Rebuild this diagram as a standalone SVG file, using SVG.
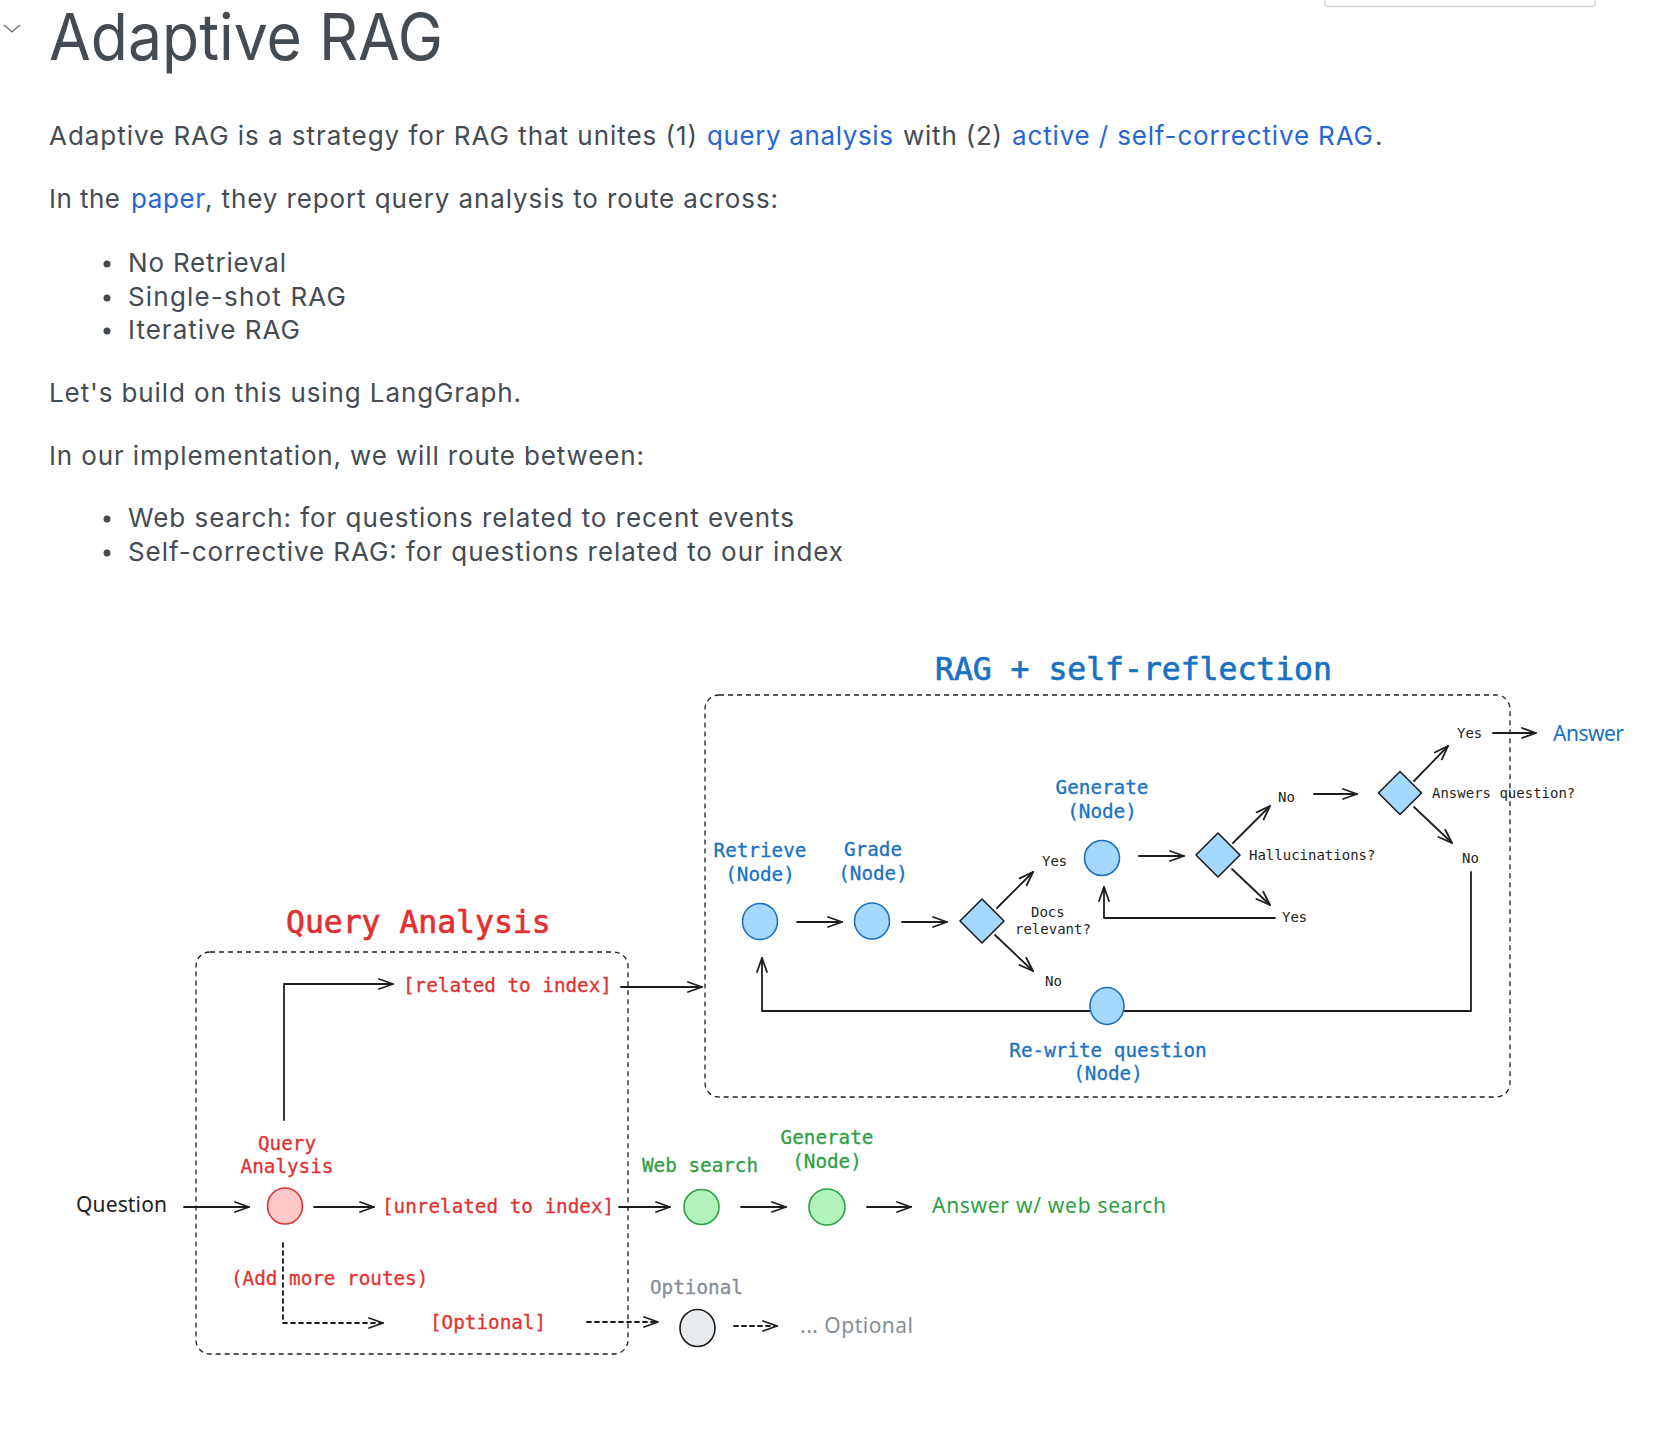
<svg xmlns="http://www.w3.org/2000/svg" width="1660" height="1454" viewBox="0 0 1660 1454">
<style>
.body{font-family:Inter,"Liberation Sans",sans-serif;font-size:26px;fill:#444b52}
.link{fill:#2866d4}
.mono{font-family:"DejaVu Sans Mono","Liberation Mono",monospace}
.ttl{font-size:31.4px;stroke-width:0.7}
.lbl{font-size:19.3px;stroke-width:0.3}
.sm{font-size:14px;fill:#1e1e1e}
.blue{fill:#1971c2;stroke:#1971c2}
.red{fill:#e03131;stroke:#e03131}
.green{fill:#2f9e44;stroke:#2f9e44}
.gray{fill:#868e96;stroke:#868e96}
.hand{font-family:"Noto Sans","Liberation Sans",sans-serif;font-size:21px;stroke:none}
.conn{fill:none;stroke:#1e1e1e;stroke-width:1.8;stroke-linecap:round;stroke-linejoin:round}
.dash{stroke-dasharray:4 4}
.box{fill:none;stroke:#1e1e1e;stroke-width:1.3;stroke-dasharray:5 4}
.nb{fill:#a5d8ff;stroke:#1971c2;stroke-width:1.6}
.db{fill:#a5d8ff;stroke:#1e1e1e;stroke-width:1.6;stroke-linejoin:round}
.nr{fill:#ffc9c9;stroke:#e03131;stroke-width:1.6}
.ng{fill:#b2f2bb;stroke:#2f9e44;stroke-width:1.6}
.ny{fill:#e9ecef;stroke:#1e1e1e;stroke-width:1.6}
</style>
<defs>
<marker id="ah" viewBox="0 0 16 12" refX="15" refY="6" markerWidth="16" markerHeight="12" orient="auto" markerUnits="userSpaceOnUse">
<path d="M1,1 L15,6 L1,11" fill="none" stroke="#1e1e1e" stroke-width="1.8" stroke-linecap="round" stroke-linejoin="round"/>
</marker>
</defs>
<rect width="1660" height="1454" fill="#ffffff"/>

<g id="page-text">
<rect x="1325" y="-10" width="270" height="16.5" rx="3" fill="none" stroke="#d4d4d4" stroke-width="1.5"/>
<path d="M4,25 L12,32 L20,25" fill="none" stroke="#666c73" stroke-width="1.3"/>
<text x="49" y="60" font-family="Inter,'Liberation Sans',sans-serif" font-size="64.5" fill="#454b52" textLength="394" lengthAdjust="spacingAndGlyphs">Adaptive RAG</text>
<text class="body" x="49" y="145" textLength="648">Adaptive RAG is a strategy for RAG that unites (1)</text>
<text class="body link" x="707" y="145" textLength="186">query analysis</text>
<text class="body" x="903" y="145" textLength="99">with (2)</text>
<text class="body link" x="1012" y="145" textLength="361">active / self-corrective RAG</text>
<text class="body" x="1375" y="145">.</text>
<text class="body" x="49" y="208" textLength="71">In the</text>
<text class="body link" x="131" y="208" textLength="74">paper</text>
<text class="body" x="205" y="208" textLength="573">, they report query analysis to route across:</text>
<circle cx="107" cy="264" r="3.5" fill="#444b52"/>
<circle cx="107" cy="298" r="3.5" fill="#444b52"/>
<circle cx="107" cy="331" r="3.5" fill="#444b52"/>
<text class="body" x="128" y="272" textLength="158">No Retrieval</text>
<text class="body" x="128" y="306" textLength="218">Single-shot RAG</text>
<text class="body" x="128" y="339" textLength="172">Iterative RAG</text>
<text class="body" x="49" y="402" textLength="472">Let's build on this using LangGraph.</text>
<text class="body" x="49" y="465" textLength="595">In our implementation, we will route between:</text>
<circle cx="107" cy="519" r="3.5" fill="#444b52"/>
<circle cx="107" cy="553" r="3.5" fill="#444b52"/>
<text class="body" x="128" y="527" textLength="666">Web search: for questions related to recent events</text>
<text class="body" x="128" y="561" textLength="715">Self-corrective RAG: for questions related to our index</text>
</g>

<g id="rag-section">
<rect x="705" y="695" width="805" height="402" rx="14" class="box"/>
<text class="mono ttl blue" x="935" y="680">RAG + self-reflection</text>
</g>
<g id="qa-section">
<rect x="196" y="952" width="432" height="402" rx="14" class="box"/>
<text class="mono ttl red" x="286" y="933">Query Analysis</text>
</g>

<g id="connectors">
<path class="conn" d="M797,922 L842,922" marker-end="url(#ah)"/>
<path class="conn" d="M902,922 L947,922" marker-end="url(#ah)"/>
<path class="conn" d="M997,908 L1033,872" marker-end="url(#ah)"/>
<path class="conn" d="M995,935 L1033,971" marker-end="url(#ah)"/>
<path class="conn" d="M1139,856 L1184,856" marker-end="url(#ah)"/>
<path class="conn" d="M1233,843 L1270,806" marker-end="url(#ah)"/>
<path class="conn" d="M1232,869 L1270,905" marker-end="url(#ah)"/>
<path class="conn" d="M1275,918 L1104,918 L1104,887" marker-end="url(#ah)"/>
<path class="conn" d="M1314,794 L1357,794" marker-end="url(#ah)"/>
<path class="conn" d="M1414,781 L1448,746" marker-end="url(#ah)"/>
<path class="conn" d="M1414,807 L1452,843" marker-end="url(#ah)"/>
<path class="conn" d="M1493,733 L1536,733" marker-end="url(#ah)"/>
<path class="conn" d="M1471,872 L1471,1011 L762,1011 L762,958" marker-end="url(#ah)"/>
<path class="conn" d="M284,1120 L284,984 L393,984" marker-end="url(#ah)"/>
<path class="conn" d="M621,987 L702,987" marker-end="url(#ah)"/>
<path class="conn" d="M184,1207 L249,1207" marker-end="url(#ah)"/>
<path class="conn" d="M314,1207 L374,1207" marker-end="url(#ah)"/>
<path class="conn" d="M619,1207 L670,1207" marker-end="url(#ah)"/>
<path class="conn" d="M741,1207 L786,1207" marker-end="url(#ah)"/>
<path class="conn" d="M867,1207 L911,1207" marker-end="url(#ah)"/>
<path class="conn dash" d="M283,1243 L283,1323 L383,1323" marker-end="url(#ah)"/>
<path class="conn dash" d="M587,1322 L658,1322" marker-end="url(#ah)"/>
<path class="conn dash" d="M734,1326 L777,1326" marker-end="url(#ah)"/>
</g>

<g id="retrieve">
<ellipse cx="760" cy="921.5" rx="17.5" ry="18" class="nb"/>
<text class="mono lbl blue" x="760" y="857" text-anchor="middle">Retrieve</text>
<text class="mono lbl blue" x="760" y="881" text-anchor="middle">(Node)</text>
</g>
<g id="grade">
<ellipse cx="872" cy="921" rx="17.5" ry="18" class="nb"/>
<text class="mono lbl blue" x="873" y="856" text-anchor="middle">Grade</text>
<text class="mono lbl blue" x="873" y="880" text-anchor="middle">(Node)</text>
</g>
<g id="docs-relevant">
<path class="db" d="M982,899 L1004,921 L982,943 L960,921 Z"/>
<text class="mono sm" x="1031" y="917">Docs</text>
<text class="mono sm" x="1015" y="934">relevant?</text>
<text class="mono sm" x="1042" y="866">Yes</text>
<text class="mono sm" x="1045" y="986">No</text>
</g>
<g id="generate">
<ellipse cx="1102" cy="858" rx="17.5" ry="17.5" class="nb"/>
<text class="mono lbl blue" x="1102" y="794" text-anchor="middle">Generate</text>
<text class="mono lbl blue" x="1102" y="818" text-anchor="middle">(Node)</text>
</g>
<g id="hallucinations">
<path class="db" d="M1218,833 L1240,855 L1218,877 L1196,855 Z"/>
<text class="mono sm" x="1249" y="860">Hallucinations?</text>
<text class="mono sm" x="1278" y="802">No</text>
<text class="mono sm" x="1282" y="922">Yes</text>
</g>
<g id="answers-question">
<path class="db" d="M1400,771.5 L1421.5,793 L1400,814.5 L1378.5,793 Z"/>
<text class="mono sm" x="1432" y="798">Answers question?</text>
<text class="mono sm" x="1457" y="738">Yes</text>
<text class="mono sm" x="1462" y="863">No</text>
</g>
<g id="answer">
<text class="hand blue" x="1553" y="741" textLength="71">Answer</text>
</g>
<g id="rewrite">
<ellipse cx="1107" cy="1006" rx="17" ry="18.5" class="nb"/>
<text class="mono lbl blue" x="1108" y="1057" text-anchor="middle">Re-write question</text>
<text class="mono lbl blue" x="1108" y="1080" text-anchor="middle">(Node)</text>
</g>
<g id="question">
<text class="hand" x="76" y="1212" fill="#1e1e1e" textLength="91">Question</text>
</g>
<g id="query-analysis">
<ellipse cx="285" cy="1206" rx="17.5" ry="18" class="nr"/>
<text class="mono lbl red" x="287" y="1150" text-anchor="middle">Query</text>
<text class="mono lbl red" x="287" y="1173" text-anchor="middle">Analysis</text>
</g>
<g id="related">
<text class="mono lbl red" x="403" y="992">[related to index]</text>
</g>
<g id="unrelated">
<text class="mono lbl red" x="382" y="1213">[unrelated to index]</text>
</g>
<g id="more-routes">
<text class="mono lbl red" x="231" y="1285">(Add more routes)</text>
</g>
<g id="optional-route">
<text class="mono lbl red" x="430" y="1329">[Optional]</text>
</g>
<g id="web-search">
<ellipse cx="701.5" cy="1207" rx="17.5" ry="17.5" class="ng"/>
<text class="mono lbl green" x="642" y="1172">Web search</text>
</g>
<g id="generate-web">
<ellipse cx="827" cy="1207" rx="18" ry="18" class="ng"/>
<text class="mono lbl green" x="827" y="1144" text-anchor="middle">Generate</text>
<text class="mono lbl green" x="827" y="1168" text-anchor="middle">(Node)</text>
</g>
<g id="answer-web">
<text class="hand green" x="932" y="1213" textLength="234">Answer w/ web search</text>
</g>
<g id="optional-node">
<ellipse cx="697.5" cy="1328" rx="17.5" ry="18.5" class="ny"/>
<text class="mono lbl gray" x="650" y="1294">Optional</text>
</g>
<g id="optional-end">
<text class="hand gray" x="800" y="1333" textLength="113">... Optional</text>
</g>
</svg>
